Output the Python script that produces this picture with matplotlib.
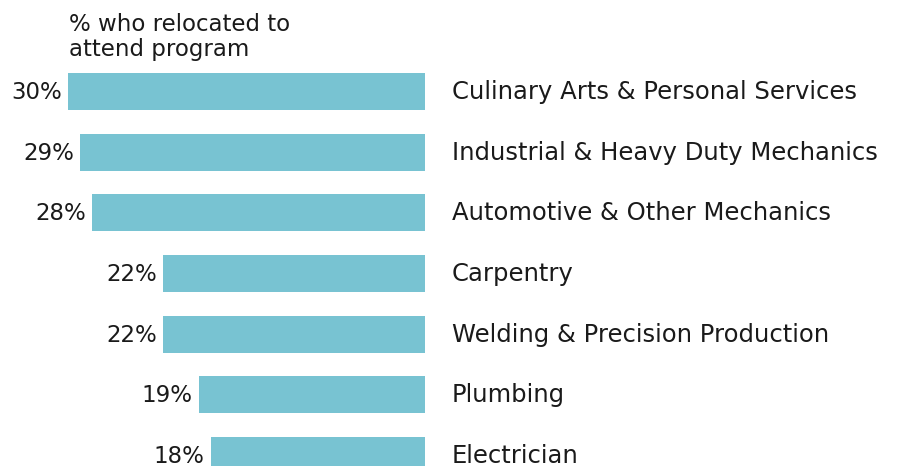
import matplotlib
matplotlib.use("Agg")
import matplotlib.pyplot as plt

categories = ["Culinary Arts & Personal Services",
              "Industrial & Heavy Duty Mechanics",
              "Automotive & Other Mechanics",
              "Carpentry",
              "Welding & Precision Production",
              "Plumbing",
              "Electrician"]
values = [30, 29, 28, 22, 22, 19, 18]
title_lines = ["% who relocated to", "attend program"]

bar_color = "#78c3d2"
text_color = "#1a1a1a"
plt.rcParams["font.family"] = ["DejaVu Sans"]

W, H = 897, 466
fig = plt.figure(figsize=(W / 100, H / 100), dpi=100)
ax = fig.add_axes([0, 0, 1, 1])

# pixel layout: zero line at x=425, 11.9 px per percent; rows 60.67 px apart
px_per = 11.9
x0 = 425
row = 60.67
y_first = 91.5
ax.set_xlim(-x0 / px_per, (W - x0) / px_per)
ax.set_ylim((H - y_first) / row, -y_first / row)
ax.axis("off")

ys = list(range(len(values)))
ax.barh(ys, [-v for v in values], height=37 / row, color=bar_color, left=0)

base = 7.6 / row
for y, v, c in zip(ys, values, categories):
    ax.text(-v - 6 / px_per, y + base, f"{v}%", ha="right", va="baseline",
            fontsize=16.5, color=text_color)
    ax.text(27 / px_per, y + base, c, ha="left", va="baseline",
            fontsize=17.5, color=text_color)

for i, line in enumerate(title_lines):
    fig.text(69 / W, 1 - (31 + 25 * i) / H, line, ha="left", va="baseline",
             fontsize=16.5, color=text_color)

fig.savefig("out.png", dpi=100)
